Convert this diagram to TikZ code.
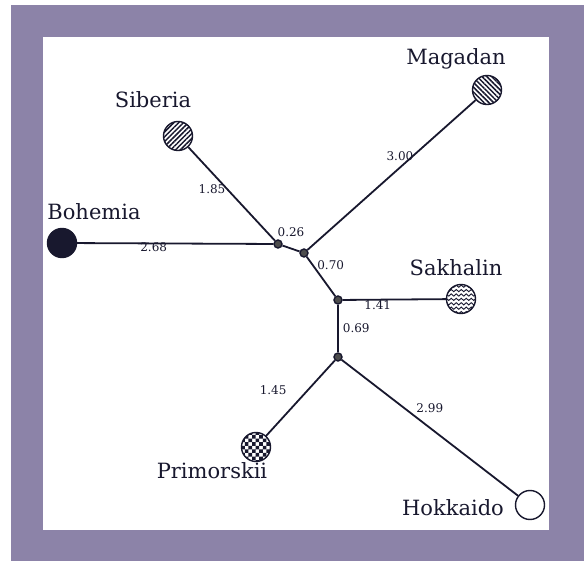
\documentclass[tikz,border=0pt]{standalone}
\usepackage{fontspec}
\setmainfont{DejaVu Serif}
\usepackage{tikz}
\usetikzlibrary{patterns, patterns.meta, positioning}
\definecolor{matte}{RGB}{140,131,168}
\definecolor{ink}{RGB}{24,24,46}
\pgfdeclarepatternformonly{bigchecker}{\pgfpoint{-0.1pt}{-0.1pt}}{\pgfpoint{7.3pt}{7.3pt}}{\pgfpoint{7.2pt}{7.2pt}}{%
    \pgfpathrectangle{\pgfpointorigin}{\pgfpoint{3.6pt}{3.6pt}}%
    \pgfpathrectangle{\pgfpoint{3.6pt}{3.6pt}}{\pgfpoint{3.6pt}{3.6pt}}%
    \pgfusepath{fill}}
\pgfdeclarepatternformonly{waves}{\pgfpoint{-1pt}{-1pt}}{\pgfpoint{6pt}{5pt}}{\pgfpoint{5pt}{4.4pt}}{%
    \pgfsetlinewidth{0.9pt}%
    \pgfpathmoveto{\pgfpoint{0pt}{2pt}}%
    \pgfpathcurveto{\pgfpoint{0.8pt}{3.5pt}}{\pgfpoint{1.7pt}{3.5pt}}{\pgfpoint{2.5pt}{2pt}}%
    \pgfpathcurveto{\pgfpoint{3.3pt}{0.5pt}}{\pgfpoint{4.2pt}{0.5pt}}{\pgfpoint{5pt}{2pt}}%
    \pgfusepath{stroke}}
\tikzset{
    leaf/.style={circle, draw=ink, line width=1.4pt, minimum size=29pt, inner sep=0pt},
    joint/.style={circle, draw=ink, line width=1.4pt, fill=black!70, minimum size=8pt, inner sep=0pt},
    branch/.style={draw=ink, line width=1.8pt},
    townlabel/.style={anchor=base, text=ink, font=\fontsize{21}{25}\selectfont},
    lenlabel/.style={text=ink, font=\fontsize{12}{14}\selectfont, inner sep=1pt},
}

\begin{document}
\begin{tikzpicture}[x=1pt, y=-1pt]
    \useasboundingbox (0,0) rectangle (584,561);
    % mount
    \fill[matte] (11,5) rectangle (584,561);
    \fill[white] (43,37) rectangle (549,530);

    % inner joints
    \node[joint] (j1) at (278,244) {};
    \node[joint] (j2) at (304,253) {};
    \node[joint] (j3) at (338,300) {};
    \node[joint] (j4) at (338,357) {};

    % leaves
    \node[leaf, fill=ink] (bohemia) at (62,243) {};
    \node[leaf, pattern={Lines[angle=45, distance=3.4pt, line width=1.5pt]}, pattern color=ink] (siberia) at (178,136) {};
    \node[leaf, pattern={Lines[angle=-45, distance=3.4pt, line width=1.5pt]}, pattern color=ink] (magadan) at (487,90) {};
    \node[leaf, pattern=waves, pattern color=ink] (sakhalin) at (461,299) {};
    \node[leaf, pattern=bigchecker, pattern color=ink] (primorskii) at (256,447) {};
    \node[leaf, fill=white] (hokkaido) at (530,505) {};

    \node[townlabel] (bohemia-name) at (94,220) {Bohemia};
    \node[townlabel] (siberia-name) at (153,108) {Siberia};
    \node[townlabel] (magadan-name) at (456,65) {Magadan};
    \node[townlabel] (sakhalin-name) at (456,276) {Sakhalin};
    \node[townlabel] (primorskii-name) at (212,478) {Primorskii};
    \node[townlabel] (hokkaido-name) at (453,515) {Hokkaido};

    % branches
    \draw[branch] (bohemia) -- node[lenlabel, pos=0.39, below=-3pt] (len-bo) {2.68} (j1);
    \draw[branch] (siberia) -- node[lenlabel, pos=0.45, left=0pt] (len-si) {1.85} (j1);
    \draw[branch] (j1) -- node[lenlabel, midway, above=10pt] (len-j12) {0.26} (j2);
    \draw[branch] (j2) -- node[lenlabel, pos=0.55, above=5pt] (len-ma) {3.00} (magadan);
    \draw[branch] (j2) -- node[lenlabel, pos=0.2, right=3pt] (len-j23) {0.70} (j3);
    \draw[branch] (j3) -- node[lenlabel, pos=0.34, below=-1pt] (len-sa) {1.41} (sakhalin);
    \draw[branch] (j3) -- node[lenlabel, midway, right=3pt] (len-j34) {0.69} (j4);
    \draw[branch] (j4) -- node[lenlabel, pos=0.4, left=19pt] (len-pr) {1.45} (primorskii);
    \draw[branch] (j4) -- node[lenlabel, pos=0.5, above=13pt] (len-ho) {2.99} (hokkaido);
\end{tikzpicture}
\end{document}
